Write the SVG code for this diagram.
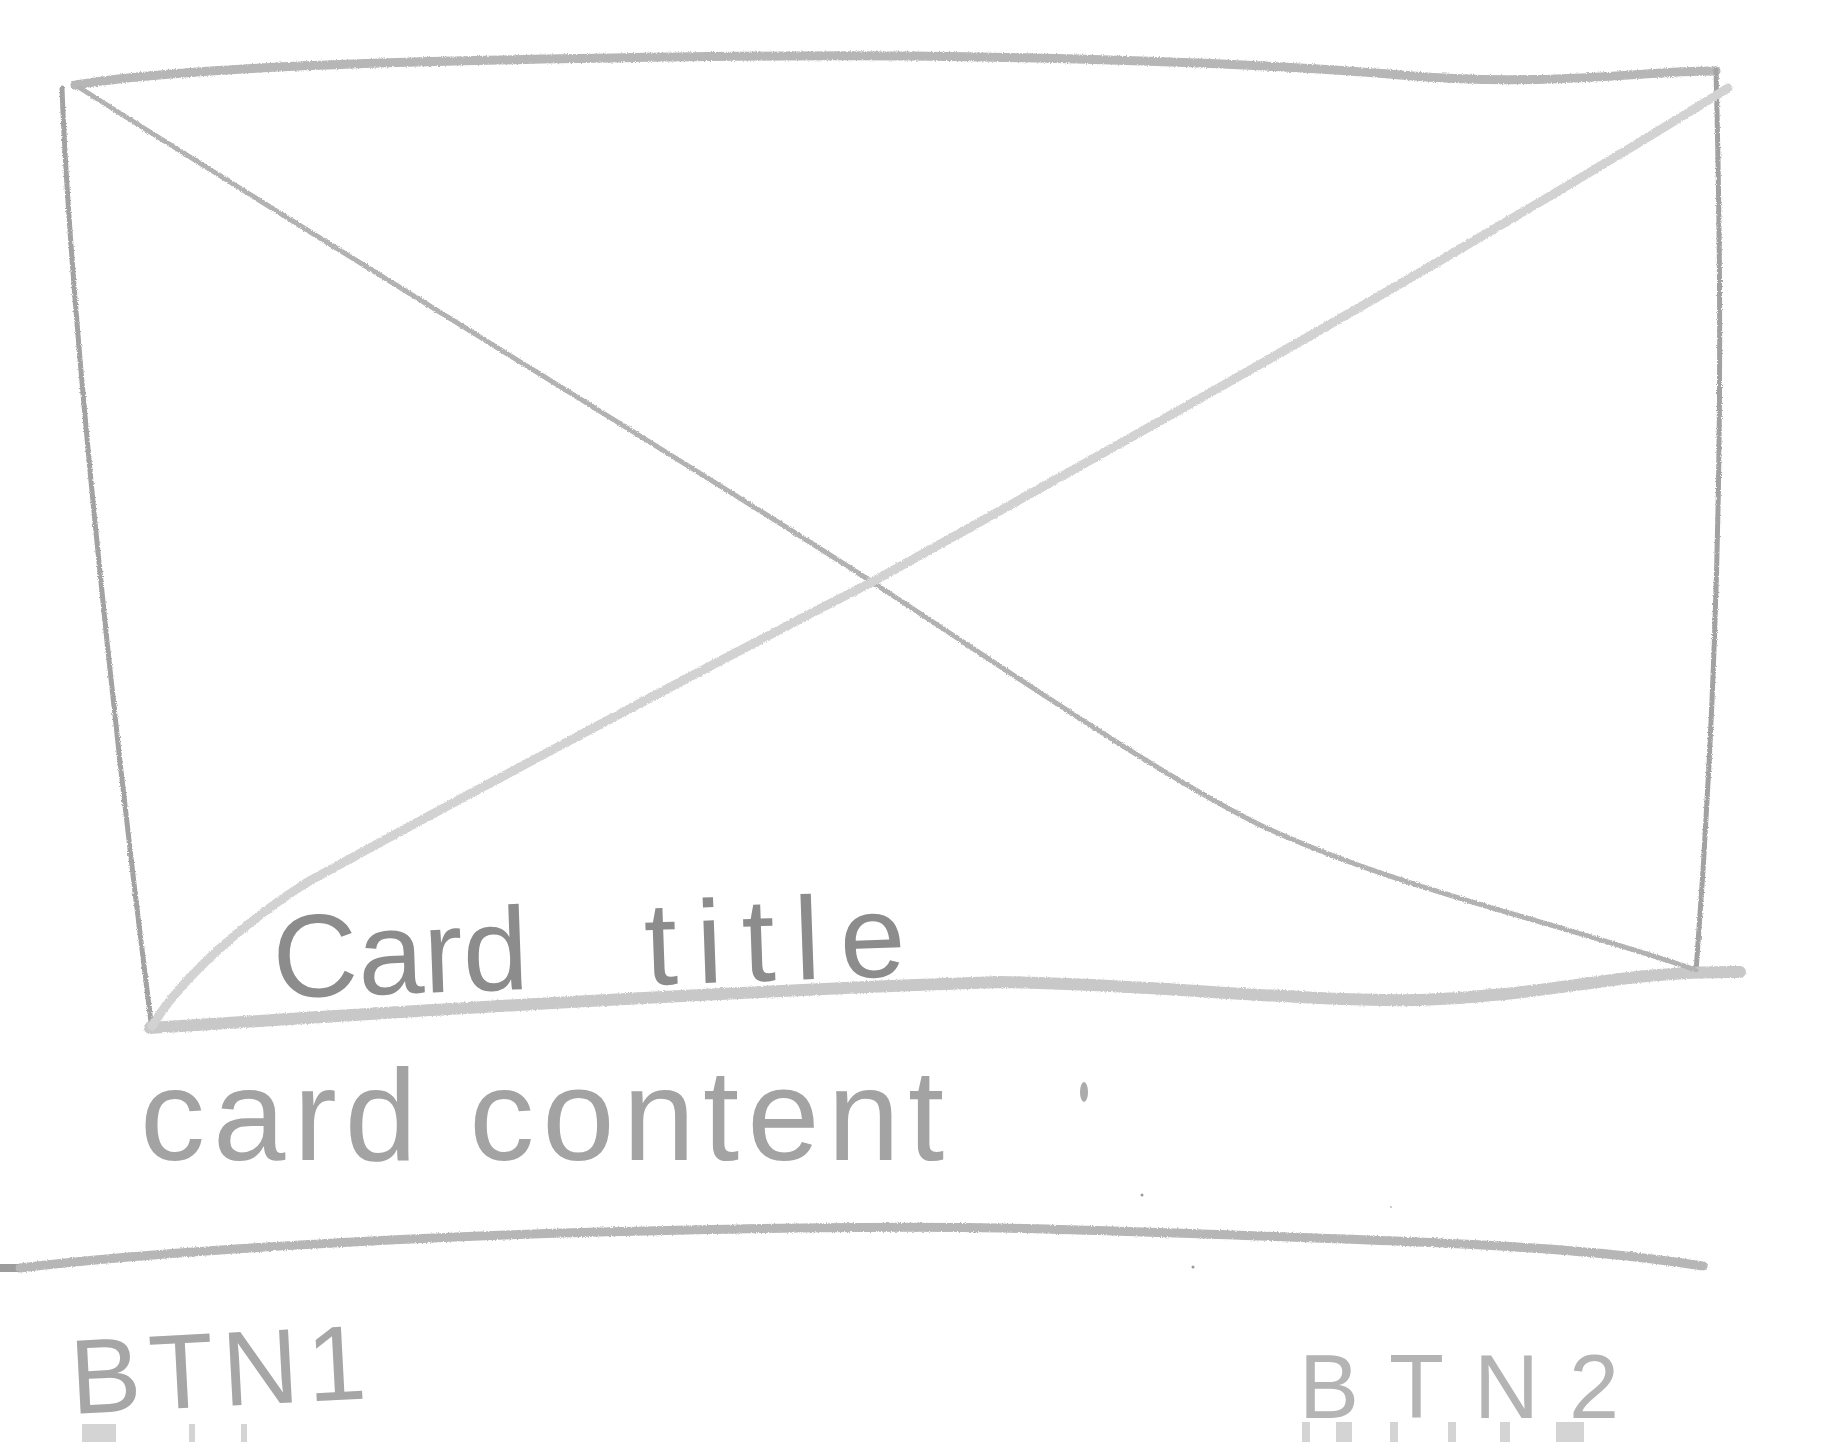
<svg xmlns="http://www.w3.org/2000/svg" width="1824" height="1442" viewBox="0 0 1824 1442">
  <defs>
    <filter id="pencil" filterUnits="userSpaceOnUse" x="0" y="0" width="1824" height="1442">
      <feTurbulence type="fractalNoise" baseFrequency="0.8" numOctaves="2" seed="4" result="noise"/>
      <feDisplacementMap in="SourceGraphic" in2="noise" scale="3" xChannelSelector="R" yChannelSelector="G"/>
    </filter>
  </defs>
  <style>
    .pencil { fill: none; stroke-linecap: round; stroke-linejoin: round; }
    .frame { stroke: #a2a2a2; stroke-width: 5; }
    .top { stroke: #b6b6b6; stroke-width: 9; }
    .bottom { stroke: #c8c8c8; stroke-width: 12; }
    .diag1 { stroke: #b2b2b2; stroke-width: 5; }
    .diag2 { stroke: #d2d2d2; stroke-width: 9; }
    .divider { stroke: #b6b6b6; stroke-width: 9; }
    .hand { font-family: "Liberation Sans", "DejaVu Sans", sans-serif; }
    .streak { fill: #d4d4d4; }
  </style>
  <rect x="0" y="0" width="1824" height="1442" fill="#ffffff"/>

  <g id="image-placeholder" filter="url(#pencil)">
    <path class="pencil top" d="M75,85 C150,72 300,64 500,60 S800,55 912,56 S1250,62 1400,75 S1650,70 1716,71"/>
    <path class="pencil frame" d="M62,88 C70,300 110,700 152,1030"/>
    <path class="pencil frame" d="M1716,70 C1722,300 1724,600 1696,972"/>
    <path class="pencil bottom" d="M150,1028 C350,1015 700,992 1000,982 C1150,984 1300,1002 1420,1000 C1560,995 1620,970 1740,972"/>
    <path class="pencil diag1" d="M80,88 C400,290 700,470 872,582 C1000,665 1150,770 1260,825 C1400,890 1550,920 1696,970"/>
    <path class="pencil diag2" d="M1728,88 C1500,230 1200,400 872,582 C700,670 420,820 306,883 C240,925 180,980 152,1026"/>
  </g>

  <g id="card-title">
    <text class="hand" font-size="118" fill="#8c8c8c" transform="rotate(-2 274 998)"><tspan x="274" y="998">Card</tspan><tspan x="646" y="998" textLength="261" lengthAdjust="spacing">title</tspan></text>
  </g>

  <g id="card-content">
    <text class="hand" x="140" y="1160" font-size="130" fill="#a3a3a3" textLength="804" lengthAdjust="spacing">card content</text>
    <ellipse cx="1084" cy="1092" rx="4" ry="10" fill="#acacac"/>
  </g>

  <g id="divider">
    <rect x="0" y="1264" width="22" height="8" fill="#9c9c9c"/>
    <path class="pencil divider" filter="url(#pencil)" d="M20,1268 C150,1252 400,1237 600,1232 S912,1226 1000,1228 S1400,1240 1500,1246 S1650,1258 1703,1266"/>
    <circle cx="1142" cy="1195" r="1.5" fill="#999"/>
    <circle cx="1391" cy="1207" r="1" fill="#bbb"/>
    <circle cx="1193" cy="1267" r="1.5" fill="#999"/>
  </g>

  <g id="btn1">
    <text class="hand" x="72" y="1414" font-size="106" fill="#a6a6a6" textLength="296" lengthAdjust="spacing" transform="rotate(-3 72 1414)">BTN1</text>
    <rect class="streak" x="82" y="1424" width="34" height="18"/>
    <rect class="streak" x="189" y="1424" width="6" height="18"/>
    <rect class="streak" x="241" y="1424" width="6" height="18"/>
  </g>

  <g id="btn2">
    <text class="hand" x="1299" y="1418" font-size="90" fill="#b4b4b4" textLength="320" lengthAdjust="spacing">BTN2</text>
    <rect class="streak" x="1302" y="1422" width="8" height="20"/>
    <rect class="streak" x="1336" y="1422" width="16" height="20"/>
    <rect class="streak" x="1390" y="1422" width="8" height="20"/>
    <rect class="streak" x="1448" y="1422" width="8" height="20"/>
    <rect class="streak" x="1500" y="1422" width="10" height="20"/>
    <rect class="streak" x="1556" y="1422" width="28" height="20"/>
  </g>
</svg>
